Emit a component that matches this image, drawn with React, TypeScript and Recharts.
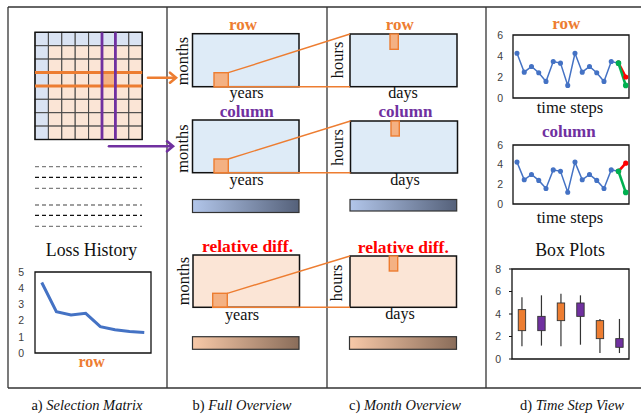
import React from 'react';
import { LineChart, Line, XAxis, YAxis, ReferenceArea, BarChart, Bar } from 'recharts';

// loss history (panel a)
const lossEpochs = [0, 1, 2, 3, 4, 5, 6, 7];
const lossValues = [4.35, 2.55, 2.35, 2.45, 1.63, 1.43, 1.33, 1.27];
const lossTicks = [0, 1, 2, 3, 4, 5];

// time step view (panel d)
const timeSteps = [0, 1, 2, 3, 4, 5, 6, 7, 8, 9, 10, 11, 12, 13, 14, 15];
const observed = [4.26, 2.46, 3.0, 2.4, 1.58, 3.47, 3.32, 1.2, 4.26, 2.46, 3.0, 2.4, 1.58, 3.47, 3.32];
const predSteps = [14, 15];
const rowRed = [3.32, 2.0];
const rowGreen = [3.32, 1.2];
const colRed = [3.32, 4.15];
const colGreen = [3.32, 1.18];
const stepTicks = [0, 2, 4, 6];

// box plots (panel d)
const boxGroups = ['row A', 'col A', 'row B', 'col B', 'row C', 'col C'];
const boxMin = [1.13, 1.19, 1.13, 1.27, 0.53, 0.53];
const boxQ1 = [2.52, 2.52, 3.41, 3.79, 1.81, 1.04];
const boxQ3 = [4.39, 3.79, 4.98, 4.98, 3.41, 1.81];
const boxMax = [5.48, 5.66, 5.81, 5.66, 3.56, 3.56];
const boxTicks = [0, 2, 4, 6, 8];

const ORANGE = '#ed7d31';
const PURPLE = '#7030a0';
const RED = '#ff0000';
const BLUE_LINE = '#4472c4';
const LIGHT_BLUE = '#deebf7';
const PEACH = '#fbe5d6';
const HILITE = '#f4b183';
const SERIF = '"Liberation Serif", "Times New Roman", serif';
const SANS = '"Liberation Sans", Arial, sans-serif';

const lossData = lossEpochs.map((e, i) => ({ epoch: e, loss: lossValues[i] }));

const makeSteps = (red: number[], green: number[]) =>
  timeSteps.map((t, i) => {
    const p = predSteps.indexOf(t);
    return {
      t,
      obs: i < observed.length ? observed[i] : null,
      red: p >= 0 ? red[p] : null,
      green: p >= 0 ? green[p] : null,
    };
  });

const rowData = makeSteps(rowRed, rowGreen);
const colData = makeSteps(colRed, colGreen);

const boxData = boxGroups.map((g, i) => ({
  group: g,
  min: boxMin[i],
  q1: boxQ1[i],
  q3: boxQ3[i],
  max: boxMax[i],
  color: i % 2 === 0 ? ORANGE : PURPLE,
}));

const tickStyle = { fontSize: 10.5, fill: '#404040', fontFamily: SANS };

const BoxShape = (props: any) => {
  const { x, y, width, height, payload } = props;
  const top = Math.min(y, y + height);
  const h = Math.abs(height);
  const ppu = h / (payload.max - payload.min);
  const cx = x + width / 2;
  const yQ3 = top + (payload.max - payload.q3) * ppu;
  const yQ1 = top + (payload.max - payload.q1) * ppu;
  const bw = 7.4;
  return (
    <g>
      <line x1={cx} x2={cx} y1={top} y2={top + h} stroke="#333" strokeWidth={1.2} />
      <rect x={cx - bw / 2} y={yQ3} width={bw} height={yQ1 - yQ3} fill={payload.color} stroke="#333" strokeWidth={0.9} />
    </g>
  );
};

const StepChart = ({ data, top, height }: { data: any[]; top: number; height: number }) => (
  <div style={{ position: 'absolute', left: 480, top }}>
    <LineChart width={161} height={height} data={data} margin={{ top: 9, right: 12, bottom: 10, left: 2 }}>
      <XAxis dataKey="t" type="number" domain={[-0.55, 15.45]} hide />
      <YAxis domain={[0, 6]} ticks={stepTicks} width={31} axisLine={false} tickLine={false} tickMargin={4} tick={tickStyle} />
      <ReferenceArea x1={-0.55} x2={15.45} y1={0} y2={6} fill="none" stroke="#111" strokeWidth={1.3} fillOpacity={0} />
      <Line dataKey="obs" stroke={BLUE_LINE} strokeWidth={1.5} dot={{ r: 1.8, fill: BLUE_LINE, stroke: BLUE_LINE }} isAnimationActive={false} connectNulls={false} />
      <Line dataKey="red" stroke={RED} strokeWidth={2.6} dot={{ r: 1.3, fill: RED, stroke: RED }} isAnimationActive={false} connectNulls={false} />
      <Line dataKey="green" stroke="#00b050" strokeWidth={2.6} dot={{ r: 1.5, fill: '#00b050', stroke: '#00b050' }} isAnimationActive={false} connectNulls={false} />
    </LineChart>
  </div>
);

const Heat = ({ x, y, w, h, fill }: { x: number; y: number; w: number; h: number; fill: string }) => (
  <rect x={x} y={y} width={w} height={h} fill={fill} stroke="#111" strokeWidth={1.5} />
);

const ColorBar = ({ x, y, w, h, grad }: { x: number; y: number; w: number; h: number; grad: string }) => (
  <rect x={x} y={y} width={w} height={h} fill={`url(#${grad})`} stroke="#333" strokeWidth={1.2} />
);

const Label = ({ x, y, children, size = 16.5, color = '#111', bold = false }: any) => (
  <text x={x} y={y} textAnchor="middle" fontFamily={SERIF} fontSize={size} fill={color} fontWeight={bold ? 'bold' : 'normal'}>
    {children}
  </text>
);

const VLabel = ({ x, y, children }: any) => (
  <text transform={`translate(${x},${y}) rotate(-90)`} textAnchor="middle" dominantBaseline="central" fontFamily={SERIF} fontSize={16.5} fill="#111">
    {children}
  </text>
);

const Arrow = ({ x1, x2, y, color }: { x1: number; x2: number; y: number; color: string }) => (
  <g stroke={color} strokeWidth={2.6} fill="none" strokeLinecap="round">
    <line x1={x1} y1={y} x2={x2 - 1} y2={y} />
    <polyline points={`${x2 - 6},${y - 5} ${x2},${y} ${x2 - 6},${y + 5}`} strokeLinejoin="miter" />
  </g>
);

const matrixIdx = [0, 1, 2, 3, 4, 5, 6, 7];
const MX = 35;
const MY = 32.3;
const CELL = 13.4;
const dashRows = [
  { y: 166.7, c: '#808080' },
  { y: 177.3, c: '#111' },
  { y: 188.3, c: '#808080' },
  { y: 205, c: '#808080' },
  { y: 215.3, c: '#111' },
  { y: 226.3, c: '#808080' },
];

export default function App() {
  return (
    <div style={{ position: 'absolute', left: 0, top: 0, width: 641, height: 417, background: '#fff', overflow: 'hidden' }}>
      <svg width={641} height={417} style={{ position: 'absolute', left: 0, top: 0 }}>
        <defs>
          <linearGradient id="gBlue" x1="0" x2="1" y1="0" y2="0">
            <stop offset="0" stopColor="#b2c6ea" />
            <stop offset="1" stopColor="#55617a" />
          </linearGradient>
          <linearGradient id="gPeach" x1="0" x2="1" y1="0" y2="0">
            <stop offset="0" stopColor="#f8c9a8" />
            <stop offset="1" stopColor="#8a6d5a" />
          </linearGradient>
        </defs>

        {/* frame */}
        <g stroke="#333" strokeWidth={1.3}>
          <line x1={8} y1={7} x2={641} y2={7} />
          <line x1={8} y1={388} x2={641} y2={388} />
          <line x1={8} y1={7} x2={8} y2={388} />
          <line x1={167} y1={7} x2={167} y2={388} />
          <line x1={327} y1={7} x2={327} y2={388} />
          <line x1={486} y1={7} x2={486} y2={388} />
        </g>

        {/* selection matrix */}
        {matrixIdx.map((r) =>
          matrixIdx.map((c) => (
            <rect
              key={`${r}-${c}`}
              x={MX + c * CELL}
              y={MY + r * CELL}
              width={CELL}
              height={CELL}
              fill={r === 3 && c === 5 ? HILITE : r === 0 || c === 0 ? '#dae3f3' : PEACH}
              stroke="#444"
              strokeWidth={1}
            />
          ))
        )}
        <rect x={MX} y={MY} width={CELL * 8} height={CELL * 8} fill="none" stroke="#111" strokeWidth={1.4} />
        <g stroke={ORANGE} strokeWidth={3}>
          <line x1={MX} x2={MX + CELL * 8} y1={MY + CELL * 3} y2={MY + CELL * 3} />
          <line x1={MX} x2={MX + CELL * 8} y1={MY + CELL * 4} y2={MY + CELL * 4} />
        </g>
        <g stroke={PURPLE} strokeWidth={2.8}>
          <line x1={MX + CELL * 5} x2={MX + CELL * 5} y1={MY} y2={MY + CELL * 8} />
          <line x1={MX + CELL * 6} x2={MX + CELL * 6} y1={MY} y2={MY + CELL * 8} />
        </g>
        <Arrow x1={148} x2={176} y={77.7} color={ORANGE} />
        <Arrow x1={109} x2={173} y={146.3} color={PURPLE} />

        {dashRows.map((d) => (
          <line key={d.y} x1={35} x2={142} y1={d.y} y2={d.y} stroke={d.c} strokeWidth={1.3} strokeDasharray="4 3" />
        ))}

        <Label x={91.5} y={256} size={17.8}>Loss History</Label>
        <Label x={91.7} y={367} size={16} color={ORANGE} bold>row</Label>

        {/* full overview */}
        <Label x={243} y={30} size={17} color={ORANGE} bold>row</Label>
        <Heat x={192.5} y={33.7} w={106.5} h={53} fill={LIGHT_BLUE} />
        <VLabel x={182} y={61}>months</VLabel>
        <Label x={246.5} y={98} size={16.2}>years</Label>

        <Label x={246.7} y={117} size={17} color={PURPLE} bold>column</Label>
        <Heat x={192.5} y={120} w={106.5} h={52.7} fill={LIGHT_BLUE} />
        <VLabel x={182} y={148.5}>months</VLabel>
        <Label x={246.5} y={185} size={16.2}>years</Label>

        <ColorBar x={192.5} y={199.5} w={106.5} h={13} grad="gBlue" />

        <Label x={247.5} y={251.5} size={17.5} color={RED} bold>relative diff.</Label>
        <Heat x={193} y={255} w={106.5} h={52.3} fill={PEACH} />
        <VLabel x={183} y={281}>months</VLabel>
        <Label x={242} y={319.5} size={16.2}>years</Label>

        <ColorBar x={192.5} y={336.7} w={106.5} h={12.6} grad="gPeach" />

        {/* month overview */}
        <Label x={399.7} y={29.5} size={17} color={ORANGE} bold>row</Label>
        <Heat x={350} y={34} w={107} h={52.7} fill={LIGHT_BLUE} />
        <VLabel x={337} y={60}>hours</VLabel>
        <Label x={403} y={98} size={16.2}>days</Label>

        <Label x={405.5} y={117.3} size={17} color={PURPLE} bold>column</Label>
        <Heat x={350.5} y={121} w={107} h={52} fill={LIGHT_BLUE} />
        <VLabel x={337} y={147.5}>hours</VLabel>
        <Label x={405} y={185} size={16.2}>days</Label>

        <ColorBar x={350} y={199.5} w={106.7} h={11.5} grad="gBlue" />

        <Label x={403.3} y={252.5} size={17.5} color={RED} bold>relative diff.</Label>
        <Heat x={350} y={256} w={106.5} h={51.3} fill={PEACH} />
        <VLabel x={336} y={283}>hours</VLabel>
        <Label x={400} y={318.5} size={16.2}>days</Label>

        <ColorBar x={349.5} y={336.7} w={107} h={12.6} grad="gPeach" />

        {/* highlights and connectors */}
        <g stroke={ORANGE} strokeWidth={1.4}>
          <rect x={214} y={72.7} width={14.3} height={14} fill={HILITE} />
          <rect x={214} y={159} width={14.3} height={13.7} fill={HILITE} />
          <rect x={212.7} y={293.3} width={14.6} height={14} fill={HILITE} />
          <rect x={390} y={34} width={8.3} height={15.3} fill={HILITE} />
          <rect x={391} y={121} width={8.3} height={15} fill={HILITE} />
          <rect x={389.3} y={256} width={8.4} height={15} fill={HILITE} />
          <line x1={228.3} y1={72.7} x2={350} y2={34} />
          <line x1={214} y1={86.7} x2={350} y2={86.7} />
          <line x1={228.3} y1={159} x2={350.5} y2={121} />
          <line x1={214} y1={172.7} x2={350.5} y2={172.7} />
          <line x1={227.3} y1={293.3} x2={350} y2={256} />
          <line x1={212.7} y1={307.3} x2={350} y2={307.3} />
        </g>

        {/* time step view titles */}
        <Label x={566.3} y={29.3} size={17} color={ORANGE} bold>row</Label>
        <Label x={570} y={113}>time steps</Label>
        <Label x={568.8} y={137.3} size={17} color={PURPLE} bold>column</Label>
        <Label x={570} y={223}>time steps</Label>
        <Label x={570} y={255.5} size={17.8}>Box Plots</Label>

        {/* captions */}
        <g fontFamily={SERIF} fontSize={14.5} fill="#111" textAnchor="middle">
          <text x={87} y={410}>a) <tspan fontStyle="italic">Selection Matrix</tspan></text>
          <text x={242} y={410}>b) <tspan fontStyle="italic">Full Overview</tspan></text>
          <text x={405} y={410}>c) <tspan fontStyle="italic">Month Overview</tspan></text>
          <text x={572} y={410}>d) <tspan fontStyle="italic">Time Step View</tspan></text>
        </g>
      </svg>

      {/* loss history chart */}
      <div style={{ position: 'absolute', left: 0, top: 262 }}>
        <LineChart width={160} height={100} data={lossData} margin={{ top: 10, right: 9, bottom: 9, left: 5 }}>
          <XAxis dataKey="epoch" type="number" domain={[-0.46, 7.46]} hide />
          <YAxis domain={[0, 5]} ticks={lossTicks} width={30} axisLine={false} tickLine={false} tickMargin={5} tick={tickStyle} />
          <ReferenceArea x1={-0.46} x2={7.46} y1={0} y2={5} fill="none" fillOpacity={0} stroke="#111" strokeWidth={1.3} />
          <Line dataKey="loss" stroke={BLUE_LINE} strokeWidth={3} dot={false} isAnimationActive={false} />
        </LineChart>
      </div>

      <StepChart data={rowData} top={26} height={82} />
      <StepChart data={colData} top={136} height={78} />

      {/* box plots */}
      <div style={{ position: 'absolute', left: 480, top: 260 }}>
        <BarChart width={161} height={110} data={boxData} margin={{ top: 9, right: 12, bottom: 11, left: 2 }}>
          <XAxis dataKey="group" hide />
          <YAxis domain={[0, 8]} ticks={boxTicks} width={30} axisLine={false} tickLine={{ stroke: '#111' }} tickSize={3} tickMargin={8} tick={tickStyle} />
          <ReferenceArea y1={0} y2={8} fill="none" fillOpacity={0} stroke="#111" strokeWidth={1.3} />
          <Bar dataKey={(d: any) => [d.min, d.max]} shape={<BoxShape />} isAnimationActive={false} />
        </BarChart>
      </div>
    </div>
  );
}
